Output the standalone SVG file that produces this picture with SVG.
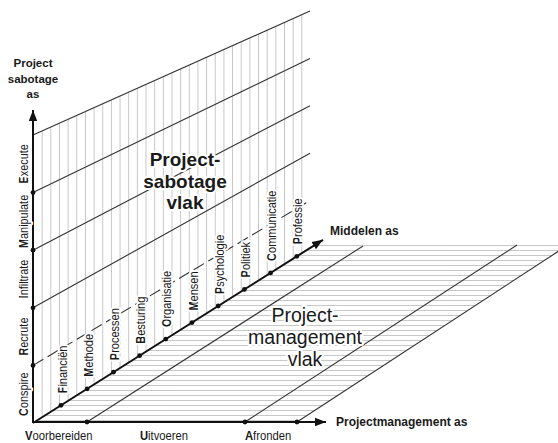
<svg xmlns="http://www.w3.org/2000/svg" width="558" height="443" viewBox="0 0 558 443">
<style>
.pl{stroke:#333;stroke-width:1.1;fill:none}
.axis{stroke:#111;stroke-width:2;fill:none}
.dot{fill:#111}
text{font-family:"Liberation Sans",Arial,sans-serif;fill:#1a1a1a}
.halo{stroke:#fff;stroke-width:4;stroke-linejoin:round;paint-order:stroke}
.lbl{font-size:12.5px}
.ttl{font-size:11.5px;font-weight:bold}
.ax{font-size:12px;font-weight:bold}
.big{font-size:19px;font-weight:bold;text-anchor:middle}
.big2{font-size:19.5px;text-anchor:middle}
</style>
<defs>
<pattern id="vh" patternUnits="userSpaceOnUse" x="33" y="0" width="8.656" height="443">
<line x1="0.4" y1="0" x2="0.4" y2="443" stroke="#b0b0b0" stroke-width="0.8"/>
</pattern>
<pattern id="hh" patternUnits="userSpaceOnUse" x="0" y="245" width="558" height="5">
<line x1="0" y1="0.4" x2="558" y2="0.4" stroke="#b0b0b0" stroke-width="0.8"/>
</pattern>
<marker id="arr" markerUnits="userSpaceOnUse" markerWidth="12" markerHeight="10" refX="11" refY="5" orient="auto">
<path d="M0,0.8 L11,5 L0,9.2 Z" fill="#111"/>
</marker>
</defs>

<g id="sabotage-plane">
<polygon points="33,135 310,11 310,248 33,423" fill="url(#vh)"/>
<line class="pl" x1="33" y1="135" x2="310" y2="11"/>
<line class="pl" x1="33" y1="192.6" x2="310" y2="58.4"/>
<line class="pl" x1="33" y1="250.2" x2="310" y2="105.8"/>
<line class="pl" x1="33" y1="307.8" x2="310" y2="153.2"/>
<line class="pl" x1="33" y1="365.4" x2="310" y2="200.6" stroke-dasharray="12 5"/>
</g>

<g id="management-plane">
<polygon points="36,422 297,422 568,245 316,245" fill="url(#hh)"/>
<line class="pl" x1="87" y1="422" x2="363" y2="246"/>
<line class="pl" x1="245" y1="422" x2="517" y2="245"/>
<line class="pl" x1="297" y1="422" x2="568" y2="245"/>
</g>

<g id="connectors">
<line class="axis" x1="33" y1="423" x2="33" y2="110" marker-end="url(#arr)"/>
<line class="axis" x1="33" y1="423" x2="323" y2="239.8" marker-end="url(#arr)"/>
<line class="axis" x1="32" y1="422" x2="326" y2="422" marker-end="url(#arr)"/>
</g>

<g id="dots">
<circle class="dot" cx="33" cy="192.6" r="2.4"/>
<circle class="dot" cx="33" cy="250.2" r="2.4"/>
<circle class="dot" cx="33" cy="307.8" r="2.4"/>
<circle class="dot" cx="33" cy="365.4" r="2.4"/>
<circle class="dot" cx="61" cy="405.3" r="2.4"/>
<circle class="dot" cx="87.2" cy="388.8" r="2.4"/>
<circle class="dot" cx="113.4" cy="372.2" r="2.4"/>
<circle class="dot" cx="139.6" cy="355.7" r="2.4"/>
<circle class="dot" cx="165.8" cy="339.1" r="2.4"/>
<circle class="dot" cx="192" cy="322.6" r="2.4"/>
<circle class="dot" cx="218.2" cy="306" r="2.4"/>
<circle class="dot" cx="244.4" cy="289.4" r="2.4"/>
<circle class="dot" cx="270.6" cy="272.9" r="2.4"/>
<circle class="dot" cx="296.8" cy="256.3" r="2.4"/>
<circle class="dot" cx="87" cy="422" r="2.4"/>
<circle class="dot" cx="245" cy="422" r="2.4"/>
<circle class="dot" cx="297" cy="422" r="2.4"/>
</g>

<g id="plane-titles">
<text class="big halo"><tspan x="185" y="166">Project-</tspan><tspan x="185" y="188">sabotage</tspan><tspan x="185" y="209">vlak</tspan></text>
<text class="big2 halo"><tspan x="305" y="322">Project-</tspan><tspan x="305" y="344">management</tspan><tspan x="305" y="366">vlak</tspan></text>
</g>

<g id="axis-titles">
<text class="ttl" text-anchor="middle"><tspan x="33" y="66.5">Project</tspan><tspan x="33" y="82.5">sabotage</tspan><tspan x="33" y="97.5">as</tspan></text>
<text class="ax" x="330" y="235">Middelen as</text>
<text class="ax" x="336" y="426">Projectmanagement as</text>
</g>

<g id="sabotage-labels" class="lbl">
<text class="halo" text-anchor="middle" transform="translate(27.5,394.2) rotate(-90) scale(0.87,1)"><tspan font-weight="bold">C</tspan>onspire</text>
<text class="halo" text-anchor="middle" transform="translate(27.5,336.6) rotate(-90) scale(0.87,1)"><tspan font-weight="bold">R</tspan>ecrute</text>
<text class="halo" text-anchor="middle" transform="translate(27.5,279) rotate(-90) scale(0.87,1)"><tspan font-weight="bold">I</tspan>nfiltrate</text>
<text class="halo" text-anchor="middle" transform="translate(27.5,221.4) rotate(-90) scale(0.87,1)"><tspan font-weight="bold">M</tspan>anipulate</text>
<text class="halo" text-anchor="middle" transform="translate(27.5,163.8) rotate(-90) scale(0.87,1)"><tspan font-weight="bold">E</tspan>xecute</text>
</g>

<g id="middelen-labels" class="lbl">
<text class="halo" transform="translate(66.5,393.3) rotate(-90) scale(0.88,1)"><tspan font-weight="bold">F</tspan>inanciën</text>
<text class="halo" transform="translate(92.7,376.8) rotate(-90) scale(0.88,1)"><tspan font-weight="bold">M</tspan>ethode</text>
<text class="halo" transform="translate(118.9,360.2) rotate(-90) scale(0.88,1)"><tspan font-weight="bold">P</tspan>rocessen</text>
<text class="halo" transform="translate(145.1,343.7) rotate(-90) scale(0.88,1)"><tspan font-weight="bold">B</tspan>esturing</text>
<text class="halo" transform="translate(171.3,327.1) rotate(-90) scale(0.88,1)"><tspan font-weight="bold">O</tspan>rganisatie</text>
<text class="halo" transform="translate(197.5,310.6) rotate(-90) scale(0.88,1)"><tspan font-weight="bold">M</tspan>ensen</text>
<text class="halo" transform="translate(223.7,294) rotate(-90) scale(0.88,1)"><tspan font-weight="bold">P</tspan>sychologie</text>
<text class="halo" transform="translate(249.9,277.4) rotate(-90) scale(0.88,1)"><tspan font-weight="bold">P</tspan>olitiek</text>
<text class="halo" transform="translate(276.1,260.9) rotate(-90) scale(0.88,1)"><tspan font-weight="bold">C</tspan>ommunicatie</text>
<text class="halo" transform="translate(302.3,244.3) rotate(-90) scale(0.88,1)"><tspan font-weight="bold">P</tspan>rofessie</text>
</g>

<g id="phase-labels" class="lbl">
<text transform="translate(25,440) scale(0.9,1)"><tspan font-weight="bold">V</tspan>oorbereiden</text>
<text transform="translate(140,440) scale(0.9,1)"><tspan font-weight="bold">U</tspan>itvoeren</text>
<text transform="translate(245,440) scale(0.9,1)"><tspan font-weight="bold">A</tspan>fronden</text>
</g>
</svg>
